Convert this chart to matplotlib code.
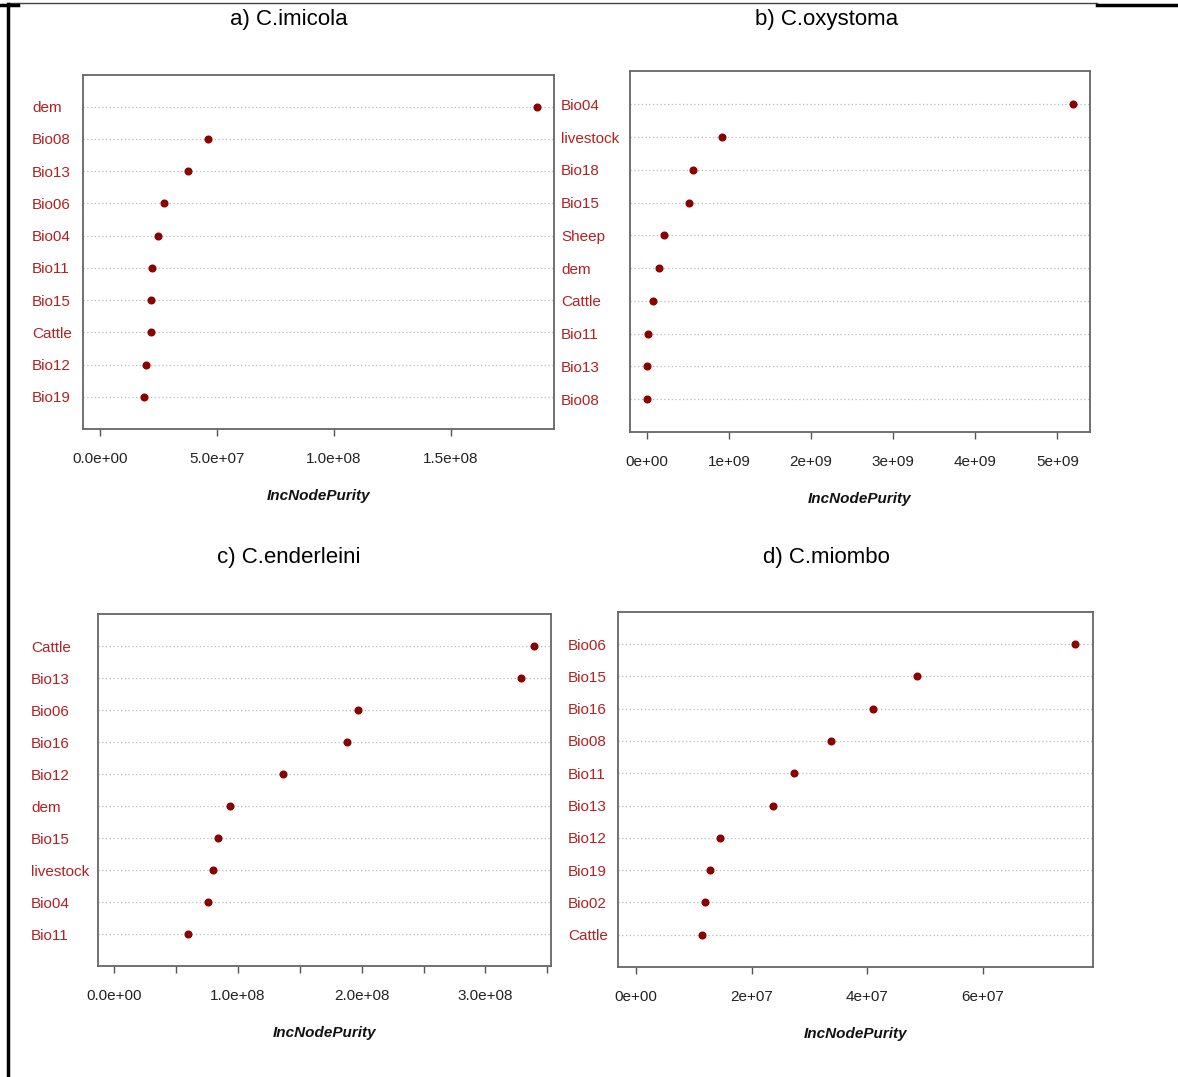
import matplotlib
matplotlib.use("Agg")
import matplotlib.pyplot as plt
from matplotlib.lines import Line2D

plt.rcParams['font.family'] = ['Liberation Sans', 'DejaVu Sans']

# variable importance (IncNodePurity), listed top to bottom
imicola_vars = ["dem", "Bio08", "Bio13", "Bio06", "Bio04", "Bio11", "Bio15", "Cattle", "Bio12", "Bio19"]
imicola_vals = [1.866e8, 4.59e7, 3.76e7, 2.74e7, 2.48e7, 2.20e7, 2.19e7, 2.15e7, 1.95e7, 1.87e7]

oxystoma_vars = ["Bio04", "livestock", "Bio18", "Bio15", "Sheep", "dem", "Cattle", "Bio11", "Bio13", "Bio08"]
oxystoma_vals = [5.19e9, 9.22e8, 5.65e8, 5.09e8, 2.09e8, 1.48e8, 7.9e7, 1.2e7, 4e6, 2e6]

enderleini_vars = ["Cattle", "Bio13", "Bio06", "Bio16", "Bio12", "dem", "Bio15", "livestock", "Bio04", "Bio11"]
enderleini_vals = [3.39e8, 3.29e8, 1.97e8, 1.88e8, 1.36e8, 9.32e7, 8.40e7, 8.00e7, 7.54e7, 5.93e7]

miombo_vars = ["Bio06", "Bio15", "Bio16", "Bio08", "Bio11", "Bio13", "Bio12", "Bio19", "Bio02", "Cattle"]
miombo_vals = [7.595e7, 4.86e7, 4.09e7, 3.37e7, 2.73e7, 2.37e7, 1.46e7, 1.275e7, 1.19e7, 1.15e7]

titles = ["a) C.imicola", "b) C.oxystoma", "c) C.enderleini", "d) C.miombo"]

ticks_a = [0, 5e7, 1e8, 1.5e8]
ticklab_a = ["0.0e+00", "5.0e+07", "1.0e+08", "1.5e+08"]
ticks_b = [0, 1e9, 2e9, 3e9, 4e9, 5e9]
ticklab_b = ["0e+00", "1e+09", "2e+09", "3e+09", "4e+09", "5e+09"]
ticks_c = [0, 0.5e8, 1e8, 1.5e8, 2e8, 2.5e8, 3e8, 3.5e8]
ticklab_c = ["0.0e+00", "", "1.0e+08", "", "2.0e+08", "", "3.0e+08", ""]
ticks_d = [0, 2e7, 4e7, 6e7]
ticklab_d = ["0e+00", "2e+07", "4e+07", "6e+07"]

W, H = 1178, 1077
fig = plt.figure(figsize=(W / 100, H / 100), dpi=100)

# panel boxes in pixels: x0, x1, y0, y1 ; label left x ; title centre x, y
panels = [
    (imicola_vars, imicola_vals, ticks_a, ticklab_a, (82.8, 554, 74.5, 429), 32, (289, 20)),
    (oxystoma_vars, oxystoma_vals, ticks_b, ticklab_b, (629.7, 1090, 71.5, 432), 561, (827, 20)),
    (enderleini_vars, enderleini_vals, ticks_c, ticklab_c, (97.6, 550.5, 614, 966), 31, (289, 557)),
    (miombo_vars, miombo_vals, ticks_d, ticklab_d, (618.4, 1092.8, 611.7, 967), 568, (826, 557)),
]

for i, (names, vals, ticks, ticklabs, box, labx, tpos) in enumerate(panels):
    x0, x1, y0, y1 = box
    ax = fig.add_axes([x0 / W, 1 - y1 / H, (x1 - x0) / W, (y1 - y0) / H])
    n = len(names)
    ys = list(range(n, 0, -1))
    mx = max(vals)
    ax.set_xlim(-0.04 * mx, 1.04 * mx)
    ax.set_ylim(0, n + 1)
    for y in ys:
        ax.axhline(y, color="#bbbbbb", lw=0.9, ls=(0, (1, 2)), zorder=1)
    ax.plot(vals, ys, "o", color="#8b0000", ms=4.8, zorder=3)
    ax.set_yticks([])
    ax.set_xticks(ticks, ticklabs)
    ax.tick_params(axis="x", direction="out", length=5, width=1, color="#555555",
                   labelsize=11, labelcolor="#222222", pad=11.5)
    for s in ax.spines.values():
        s.set_color("#666666")
        s.set_linewidth(1.3)
    # row labels in the left margin
    fx = (labx - x0) / (x1 - x0)
    for name, y in zip(names, ys):
        ax.text(fx, y, name, transform=ax.get_yaxis_transform(), ha="left", va="center_baseline",
                fontsize=11, color="#b22222", clip_on=False)
    ax.annotate("IncNodePurity", xy=(0.5, 0), xycoords="axes fraction",
                xytext=(0, -48), textcoords="offset points", ha="center", va="center",
                fontsize=11, fontweight="bold", fontstyle="italic", color="#111111")
    fig.text(tpos[0] / W, 1 - tpos[1] / H, titles[i], ha="center", va="center", fontsize=16)

# frame lines of the surrounding table cell
fig.add_artist(Line2D([8 / W, 1097 / W], [1 - 3 / H, 1 - 3 / H], color="#444444", lw=1.0))
fig.add_artist(Line2D([1097 / W, 1], [1 - 5 / H, 1 - 5 / H], color="black", lw=2.5))
fig.add_artist(Line2D([0, 18 / W], [1 - 5 / H, 1 - 5 / H], color="black", lw=2.5))
fig.add_artist(Line2D([7.5 / W, 7.5 / W], [1 - 4 / H, 0], color="black", lw=2.5))

fig.savefig("out.png", dpi=100)
